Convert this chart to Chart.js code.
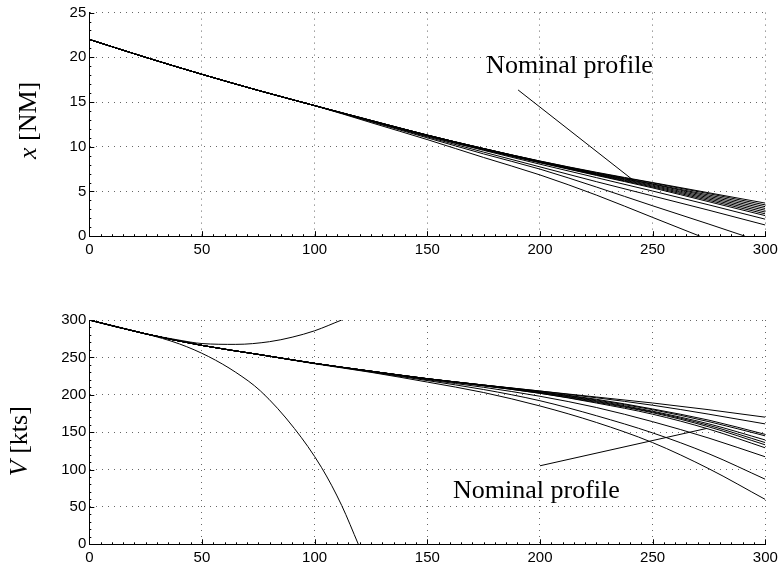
<!DOCTYPE html>
<html>
<head>
<meta charset="utf-8">
<script src="https://cdn.jsdelivr.net/npm/chart.js@4.4.0/dist/chart.umd.min.js"></script>
<style>
    html, body { margin: 0; padding: 0; background: #fff; }
    .panel { position: absolute; left: 0; width: 779px; }
    #top { top: 0; height: 283px; }
    #bottom { top: 283px; height: 284px; }
</style>
</head>
<body>
<div class="panel" id="top"><canvas id="xChart" width="779" height="283"></canvas></div>
<div class="panel" id="bottom"><canvas id="vChart" width="779" height="284"></canvas></div>
<script>
// time samples shared by most runs
const timeGrid = [0, 25, 50, 75, 100, 125, 150, 175, 200, 225, 250, 275, 300];
const timeTicks = [0, 50, 100, 150, 200, 250, 300];

// distance to go x [NM], one row per run
const xRuns = [
    [22, 20.0, 18.1, 16.3, 14.6, 12.95, 11.3, 9.8, 8.4, 7.15, 6.0, 4.85, 3.7],
    [22, 20.0, 18.1, 16.3, 14.6, 12.95, 11.3, 9.8, 8.4, 7.1, 5.95, 4.75, 3.5],
    [22, 20.0, 18.1, 16.3, 14.6, 12.95, 11.3, 9.8, 8.35, 7.05, 5.85, 4.6, 3.3],
    [22, 20.0, 18.1, 16.3, 14.6, 12.95, 11.3, 9.8, 8.35, 7.0, 5.8, 4.45, 3.1],
    [22, 20.0, 18.1, 16.3, 14.6, 12.9, 11.3, 9.75, 8.3, 6.95, 5.7, 4.3, 2.9],
    [22, 20.0, 18.1, 16.3, 14.6, 12.9, 11.3, 9.75, 8.3, 6.9, 5.6, 4.15, 2.7],
    [22, 20.0, 18.1, 16.3, 14.6, 12.9, 11.25, 9.7, 8.25, 6.85, 5.5, 4.0, 2.5],
    [22, 20.0, 18.1, 16.3, 14.6, 12.9, 11.2, 9.65, 8.2, 6.8, 5.4, 3.85, 2.3],
    [22, 20.0, 18.1, 16.3, 14.6, 12.9, 11.2, 9.6, 8.05, 6.55, 5.05, 3.5, 1.9],
    [22, 20.0, 18.1, 16.3, 14.6, 12.85, 11.1, 9.4, 7.75, 6.1, 4.5, 2.9, 1.25]
];
// two runs that reach the threshold before 300 s
const xEarlyTimeA = [0, 25, 50, 75, 100, 125, 150, 175, 200, 225, 250, 271];
const xEarlyA = [22, 20.0, 18.1, 16.3, 14.6, 12.7, 10.8, 8.8, 6.85, 4.6, 2.1, 0];
const xEarlyTimeB = [0, 25, 50, 75, 100, 125, 150, 175, 200, 225, 250, 275, 291];
const xEarlyB = [22, 20.0, 18.1, 16.3, 14.6, 12.8, 11.0, 9.2, 7.5, 5.5, 3.4, 1.35, 0];

// speed V [kts], one row per run
const vRuns = [
    [300, 281.5, 266, 254, 242, 231.5, 221.5, 213, 205, 197, 189, 180, 170],
    [300, 281.5, 266, 254, 242, 231.5, 221.5, 213, 205, 196, 186, 174, 161],
    [300, 281.5, 266, 254, 242, 231.5, 221.5, 213, 204, 194, 181, 166, 147],
    [300, 281.5, 266, 254, 242, 231.5, 221.5, 213, 204, 193, 180, 164, 145],
    [300, 281.5, 266, 254, 242, 231.5, 221.5, 212.5, 203, 192, 178, 161, 139.5],
    [300, 281.5, 266, 254, 242, 231.5, 221.5, 212.5, 203, 191, 177, 159, 136],
    [300, 281.5, 266, 254, 242, 231.5, 221, 212, 202, 190, 176, 157, 133],
    [300, 281.5, 266, 254, 242, 231.5, 221, 212, 202, 189, 174, 154, 129],
    [300, 281.5, 266, 254, 242, 231, 220, 210, 198, 183, 164, 142, 117],
    [300, 281.5, 266, 254, 242, 230.5, 219, 207, 192, 172, 149, 121, 87],
    [300, 281.5, 266, 254, 241.5, 230, 217, 203, 185, 163, 136, 101, 60]
];
// the run that speeds up and the one that stalls
const vClimbTime = [0, 25, 40, 50, 65, 80, 90, 100, 112];
const vClimb = [300, 281.5, 273, 268.5, 267.4, 271, 277, 285.6, 300];
const vDropTime = [0, 25, 40, 53, 65, 76, 91, 103, 112, 119.4];
const vDrop = [300, 281.5, 268, 251, 230, 205, 155, 103, 52, 0];

// "Nominal profile" pointer ends, in data units [time, value]
const xPointer = [[190.3, 16.35], [241.3, 6.28]];
const vPointer = [[200, 105], [274, 155]];

const toPoints = (times, values) => times.map((t, i) => ({ x: t, y: values[i] }));
const pairsToPoints = (pairs) => pairs.map(([t, v]) => ({ x: t, y: v }));

const lineStyle = {
    showLine: true,
    borderColor: "#000",
    borderWidth: 1,
    pointRadius: 0,
    fill: false,
    cubicInterpolationMode: "monotone",
};

// inward major/minor ticks, rotated y label with italic symbol, note text
const decor = {
    id: "decor",
    afterDraw(chart, args, o) {
        const { ctx, chartArea: a, scales: { x, y } } = chart;
        ctx.save();
        ctx.strokeStyle = "#000";
        ctx.lineWidth = 1;
        ctx.beginPath();
        const nx = Math.round((x.max - x.min) / o.xMinor);
        for (let i = 0; i <= nx; i++) {
            const px = Math.round(x.getPixelForValue(x.min + i * o.xMinor)) + 0.5;
            const len = i % o.xPerMajor === 0 ? 5 : 2;
            ctx.moveTo(px, a.bottom);
            ctx.lineTo(px, a.bottom - len);
        }
        const ny = Math.round((y.max - y.min) / o.yMinor);
        for (let i = 0; i <= ny; i++) {
            const py = Math.round(y.getPixelForValue(y.min + i * o.yMinor)) + 0.5;
            const len = i % o.yPerMajor === 0 ? 5 : 2;
            ctx.moveTo(a.left, py);
            ctx.lineTo(a.left + len, py);
        }
        ctx.stroke();

        // axis label
        ctx.fillStyle = "#000";
        ctx.textBaseline = "alphabetic";
        ctx.textAlign = "left";
        const italic = 'italic 26px "Liberation Serif"';
        const upright = '26px "Liberation Serif"';
        ctx.font = italic;
        const w1 = ctx.measureText(o.symbol).width;
        ctx.font = upright;
        const w2 = ctx.measureText(o.unit).width;
        ctx.save();
        ctx.translate(o.titleX, (a.top + a.bottom) / 2 + o.titleDy);
        ctx.rotate(-Math.PI / 2);
        const start = -(w1 + w2) / 2;
        ctx.font = italic;
        ctx.fillText(o.symbol, start, 0);
        ctx.font = upright;
        ctx.fillText(o.unit, start + w1, 0);
        ctx.restore();

        // note text
        ctx.font = upright;
        ctx.fillText(o.note, x.getPixelForValue(o.noteAt[0]), y.getPixelForValue(o.noteAt[1]));
        ctx.restore();
    },
};

function makeChart(id, cfg) {
    const tickFont = { family: '"Liberation Sans", Arial, sans-serif', size: 15 };
    const datasets = cfg.series.map((d) => Object.assign({ data: d }, lineStyle));
    datasets.push(Object.assign({ data: cfg.pointer }, lineStyle, { cubicInterpolationMode: "default", tension: 0 }));
    return new Chart(document.getElementById(id), {
        type: "scatter",
        data: { datasets },
        options: {
            responsive: false,
            animation: false,
            devicePixelRatio: 1,
            events: [],
            layout: { padding: { left: 0, right: 13.7, top: cfg.padTop, bottom: 0 } },
            plugins: {
                legend: { display: false },
                tooltip: { enabled: false },
                decor: cfg.decor,
            },
            scales: {
                x: {
                    type: "linear",
                    min: 0,
                    max: 300,
                    afterBuildTicks: (s) => { s.ticks = timeTicks.map((v) => ({ value: v })); },
                    ticks: { color: "#000", font: tickFont, padding: 5, maxRotation: 0, autoSkip: false },
                    grid: { color: "#666", lineWidth: 1, drawTicks: false },
                    border: { display: true, color: "#000", width: 1, dash: [1, 5] },
                    afterFit: (s) => {
                        s.height = cfg.xHeight;
                        s.paddingLeft = 0;
                        s.paddingRight = 0;
                    },
                },
                y: {
                    type: "linear",
                    min: cfg.yTicks[0],
                    max: cfg.yTicks[cfg.yTicks.length - 1],
                    afterBuildTicks: (s) => { s.ticks = cfg.yTicks.map((v) => ({ value: v })); },
                    ticks: { color: "#000", font: tickFont, padding: 3, autoSkip: false },
                    grid: { color: "#666", lineWidth: 1, drawTicks: false },
                    border: { display: true, color: "#000", width: 1, dash: [1, 5] },
                    afterFit: (s) => {
                        s.width = 89.3;
                        s.paddingTop = 0;
                        s.paddingBottom = 0;
                    },
                },
            },
        },
        plugins: [decor],
    });
}

const xTicks = [0, 5, 10, 15, 20, 25];
const vTicks = [0, 50, 100, 150, 200, 250, 300];

makeChart("xChart", {
    series: [
        ...xRuns.map((r) => toPoints(timeGrid, r)),
        toPoints(xEarlyTimeA, xEarlyA),
        toPoints(xEarlyTimeB, xEarlyB),
    ],
    pointer: pairsToPoints(xPointer),
    yTicks: xTicks,
    padTop: 12.6,
    xHeight: 46.8,
    decor: {
        xMinor: 5, xPerMajor: 10, yMinor: 1, yPerMajor: 5,
        symbol: "x", unit: " [NM]", titleX: 36, titleDy: -4,
        note: "Nominal profile", noteAt: [176.1, 18.3],
    },
});

makeChart("vChart", {
    series: [
        ...vRuns.map((r) => toPoints(timeGrid, r)),
        toPoints(vClimbTime, vClimb),
        toPoints(vDropTime, vDrop),
    ],
    pointer: pairsToPoints(vPointer),
    yTicks: vTicks,
    padTop: 37,
    xHeight: 22.7,
    decor: {
        xMinor: 5, xPerMajor: 10, yMinor: 10, yPerMajor: 5,
        symbol: "V", unit: " [kts]", titleX: 27, titleDy: 9,
        note: "Nominal profile", noteAt: [161.4, 61.5],
    },
});
</script>
</body>
</html>
